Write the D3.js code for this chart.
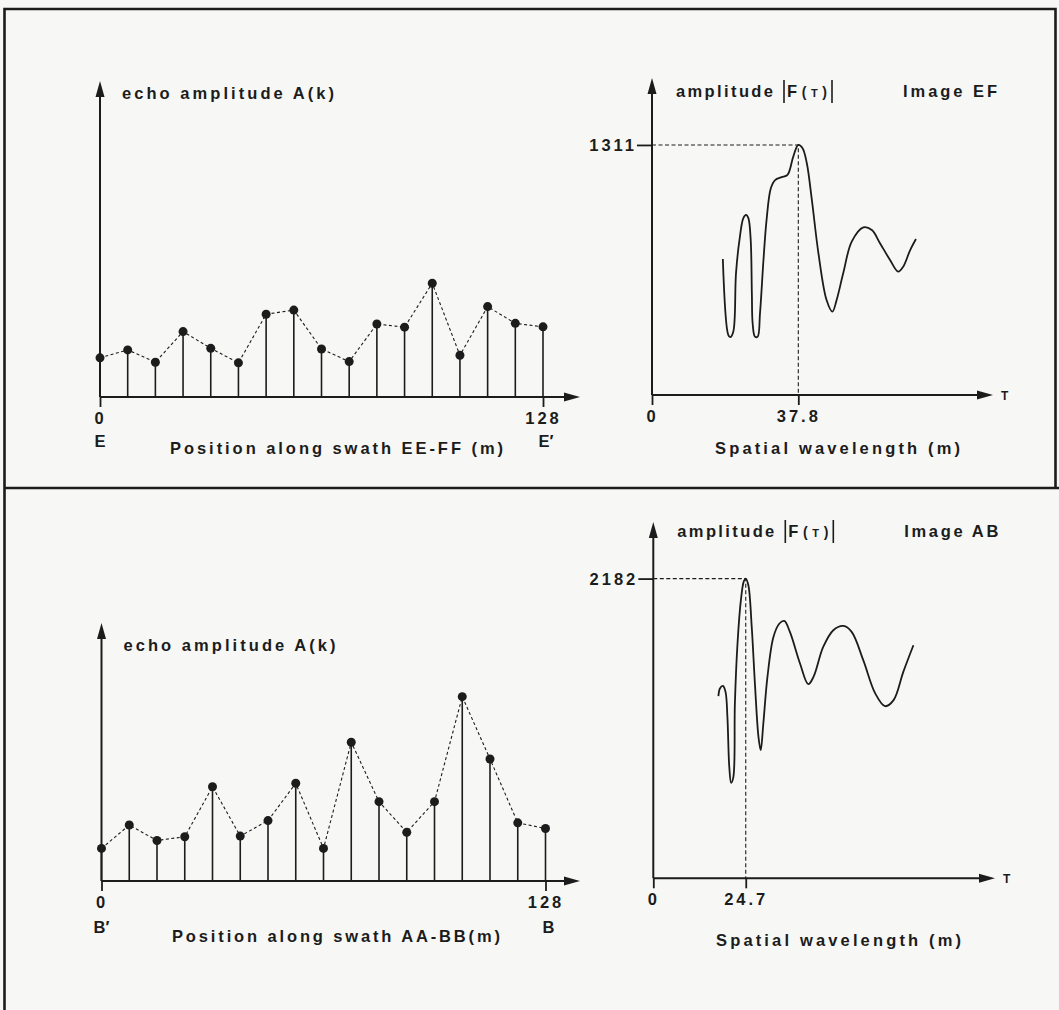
<!DOCTYPE html>
<html>
<head>
<meta charset="utf-8">
<script src="https://cdn.jsdelivr.net/npm/d3@7"></script>
<style>
  html, body { margin: 0; padding: 0; background: #f7f8f6; }
  svg { display: block; }
  text { font-family: 'Liberation Sans', Arial, sans-serif; font-weight: bold; fill: #1c1c1c; }
</style>
</head>
<body>
<svg width="1059" height="1010"></svg>
<script>
// sample positions along the swath (m)
const samplePos = [0, 8, 16, 24, 32, 40, 48, 56, 64, 72, 80, 88, 96, 104, 112, 120, 128];
const posTicks = [0, 128];

// echo amplitude A(k), arbitrary units
const echoEF = [12.4, 14.9, 11.0, 20.7, 15.4, 10.8, 26.2, 27.5, 15.2, 11.2, 23.1, 22.1, 36.0, 13.2, 28.6, 23.3, 22.2];
const echoAB = [10.3, 17.7, 12.8, 14.0, 29.8, 14.2, 19.1, 30.9, 10.3, 43.9, 25.1, 15.4, 25.1, 58.3, 38.6, 18.4, 16.6];

// |F(T)| spectra, T = spatial wavelength (m)
const tauEF = [18.3, 19.7, 20.2, 21.0, 21.7, 22.6, 23.6, 24.3, 24.9, 25.5, 25.8, 26.0, 26.6, 27.3, 27.9, 28.8, 29.6,
  30.7, 31.8, 33.5, 35.0, 36.5, 37.8, 38.9, 40.0, 41.3, 43.0, 45.1, 46.6, 47.7, 49.4, 51.6, 54.6, 56.8, 58.9, 61.5,
  63.6, 64.9, 66.7, 68.2];
const specEF = [713, 315, 303, 332, 638, 813, 927, 944, 927, 813, 533, 376, 306, 306, 428, 708, 918,
  1084, 1127, 1142, 1154, 1250, 1311, 1294, 1215, 1023, 743, 498, 437, 498, 638, 804, 879, 865, 796, 708,
  647, 673, 760, 818];
const tauAB = [17.4, 17.8, 18.6, 19.3, 19.8, 20.3, 20.8, 21.4, 21.8, 22.5, 23.4, 24.2, 24.7, 25.4, 26.3, 27.2, 28.1,
  28.7, 29.4, 30.5, 32.1, 33.7, 35.0, 36.5, 39.2, 41.4, 42.8, 45.4, 48.1, 50.8, 53.0, 56.1, 59.3, 61.9, 64.2,
  66.8, 69.5];
const specAB = [1326, 1382, 1401, 1357, 1175, 812, 695, 739, 1273, 1709, 2024, 2164, 2182, 2133, 1830, 1394, 1030,
  933, 1127, 1466, 1757, 1855, 1874, 1794, 1564, 1413, 1466, 1684, 1806, 1837, 1794, 1588, 1346, 1253, 1297,
  1503, 1697];

const peakEF = { tau: 37.8, amp: 1311 };
const peakAB = { tau: 24.7, amp: 2182 };

const svg = d3.select("svg");
const ink = "#1c1c1c";
const fs = "16.5px";

// frame
svg.append("path")
  .attr("d", "M4.5,1010 V9 H1055.5 V488")
  .attr("fill", "none").attr("stroke", ink).attr("stroke-width", 2.6);
svg.append("line")
  .attr("x1", 4.5).attr("x2", 1059).attr("y1", 488).attr("y2", 488)
  .attr("stroke", ink).attr("stroke-width", 2.4);

function arrowAxes(g, xa, ya, xb, yTop) {
  // horizontal + vertical axis lines with filled arrow heads
  g.append("line").attr("x1", xa).attr("x2", xb - 12).attr("y1", ya).attr("y2", ya)
    .attr("stroke", ink).attr("stroke-width", 2);
  g.append("line").attr("x1", xa).attr("x2", xa).attr("y1", ya).attr("y2", yTop + 12)
    .attr("stroke", ink).attr("stroke-width", 2);
  g.append("path").attr("fill", ink)
    .attr("d", `M${xb},${ya} L${xb - 16},${ya - 4.5} L${xb - 16},${ya + 4.5} Z`);
  g.append("path").attr("fill", ink)
    .attr("d", `M${xa},${yTop} L${xa - 4.5},${yTop + 16} L${xa + 4.5},${yTop + 16} Z`);
}

function styleTicks(a) {
  a.select(".domain").remove();
  a.selectAll(".tick line").attr("stroke", ink).attr("stroke-width", 1.8);
  a.selectAll(".tick text").attr("fill", ink).style("font-size", fs)
    .style("letter-spacing", "3px").attr("font-family", null);
}

function stemPanel(o) {
  const g = svg.append("g");
  const x = d3.scaleLinear([0, 128], [o.x0, o.x128]);
  const y = d3.scaleLinear([0, o.yMax], [o.yBase, o.yTop]);

  arrowAxes(g, o.x0, o.yBase, o.xTip, o.yTop);

  g.append("g").attr("transform", `translate(0,${o.yBase})`)
    .call(d3.axisBottom(x).tickValues(posTicks).tickSize(10).tickPadding(5).tickFormat(d3.format("d")))
    .call(styleTicks);

  g.selectAll(".stem").data(o.values).join("line")
    .attr("x1", (d, i) => x(samplePos[i])).attr("x2", (d, i) => x(samplePos[i]))
    .attr("y1", o.yBase).attr("y2", d => y(d))
    .attr("stroke", ink).attr("stroke-width", 1.6);

  g.append("path").datum(o.values)
    .attr("d", d3.line().x((d, i) => x(samplePos[i])).y(d => y(d)))
    .attr("fill", "none").attr("stroke", ink).attr("stroke-width", 1.1)
    .attr("stroke-dasharray", "3,2.5");

  g.selectAll(".dot").data(o.values).join("circle")
    .attr("cx", (d, i) => x(samplePos[i])).attr("cy", d => y(d)).attr("r", 4.5)
    .attr("fill", ink);

  g.append("text").attr("x", o.x0 + 22).attr("y", o.titleY)
    .attr("textLength", 212).attr("lengthAdjust", "spacing")
    .style("font-size", fs).text("echo amplitude A(k)");

  g.append("text").attr("x", x(0)).attr("y", o.endY).attr("text-anchor", "middle")
    .style("font-size", fs).text(o.startLbl);
  g.append("text").attr("x", x(128) + 3).attr("y", o.endY).attr("text-anchor", "middle")
    .style("font-size", fs).text(o.endLbl);
  g.append("text").attr("x", o.capX).attr("y", o.capY)
    .attr("textLength", o.capW).attr("lengthAdjust", "spacing")
    .style("font-size", fs).text(o.caption);
}

function spectrumPanel(o) {
  const g = svg.append("g");
  const x = d3.scaleLinear([0, o.tMax], [o.x0, o.xTip]);
  const y = d3.scaleLinear([0, o.aMax], [o.yBase, o.yTop]);

  arrowAxes(g, o.x0, o.yBase, o.xTip, o.yTop);

  g.append("g").attr("transform", `translate(0,${o.yBase})`)
    .call(d3.axisBottom(x).tickValues([0, o.peak.tau]).tickSize(10).tickPadding(5)
      .tickFormat(d => d === 0 ? "0" : d3.format(".1f")(d)))
    .call(styleTicks);

  g.append("g").attr("transform", `translate(${o.x0},0)`)
    .call(d3.axisLeft(y).tickValues([o.peak.amp]).tickSize(15).tickPadding(0).tickFormat(d3.format("d")))
    .call(styleTicks)
    .call(a => a.selectAll(".tick text").attr("dy", "0.36em"));

  const px = x(o.peak.tau), py = y(o.peak.amp);
  g.append("path")
    .attr("d", `M${o.x0},${py} H${px} V${o.yBase}`)
    .attr("fill", "none").attr("stroke", ink).attr("stroke-width", 1.1)
    .attr("stroke-dasharray", "4,2.5");

  const pts = o.tau.map((t, i) => [t, o.amp[i]]);
  g.append("path").datum(pts)
    .attr("d", d3.line().x(d => x(d[0])).y(d => y(d[1])).curve(d3.curveCatmullRom.alpha(0.5)))
    .attr("fill", "none").attr("stroke", ink).attr("stroke-width", 1.8)
    .attr("stroke-linejoin", "round");

  g.append("text").attr("x", o.xTip + 8).attr("y", o.yBase + 5)
    .style("font-size", "12px").text("T");

  // y label: amplitude |F(T)|
  const ty = o.titleY;
  g.append("text").attr("x", o.x0 + 24).attr("y", ty)
    .attr("textLength", 97).attr("lengthAdjust", "spacing")
    .style("font-size", fs).text("amplitude");
  [132, 180].forEach(dx => {
    g.append("line").attr("x1", o.x0 + dx).attr("x2", o.x0 + dx)
      .attr("y1", ty - 17).attr("y2", ty + 6)
      .attr("stroke", ink).attr("stroke-width", 1.6);
  });
  const f = g.append("text").attr("x", o.x0 + 135).attr("y", ty)
    .attr("textLength", 40).attr("lengthAdjust", "spacing")
    .style("font-size", fs);
  f.append("tspan").text("F");
  f.append("tspan").style("font-size", "14px").text("(");
  f.append("tspan").style("font-size", "11px").text("T");
  f.append("tspan").style("font-size", "14px").text(")");

  g.append("text").attr("x", o.x0 + 251).attr("y", ty)
    .attr("textLength", 94).attr("lengthAdjust", "spacing")
    .style("font-size", fs).text(o.imageLbl);

  g.append("text").attr("x", o.capX).attr("y", o.capY)
    .attr("textLength", 245).attr("lengthAdjust", "spacing")
    .style("font-size", fs).text("Spatial wavelength (m)");
}

stemPanel({
  values: echoEF, x0: 100, x128: 543, xTip: 580, yBase: 397, yTop: 81, yMax: 100,
  titleY: 99, endY: 447, startLbl: "E", endLbl: "E\u2032",
  caption: "Position along swath EE-FF (m)", capX: 170, capY: 454, capW: 333
});
stemPanel({
  values: echoAB, x0: 101.5, x128: 545.5, xTip: 580, yBase: 881, yTop: 623, yMax: 81.6,
  titleY: 651, endY: 933, startLbl: "B\u2032", endLbl: "B",
  caption: "Position along swath AA-BB(m)", capX: 172, capY: 942, capW: 328
});

spectrumPanel({
  tau: tauEF, amp: specEF, peak: peakEF, x0: 652, xTip: 993, tMax: 88.1,
  yBase: 395, yTop: 78, aMax: 1662, titleY: 97, imageLbl: "Image EF", capX: 715, capY: 454
});
spectrumPanel({
  tau: tauAB, amp: specAB, peak: peakAB, x0: 653.3, xTip: 995, tMax: 91.3,
  yBase: 878.3, yTop: 522, aMax: 2594, titleY: 537, imageLbl: "Image AB", capX: 716, capY: 946
});
</script>
</body>
</html>
